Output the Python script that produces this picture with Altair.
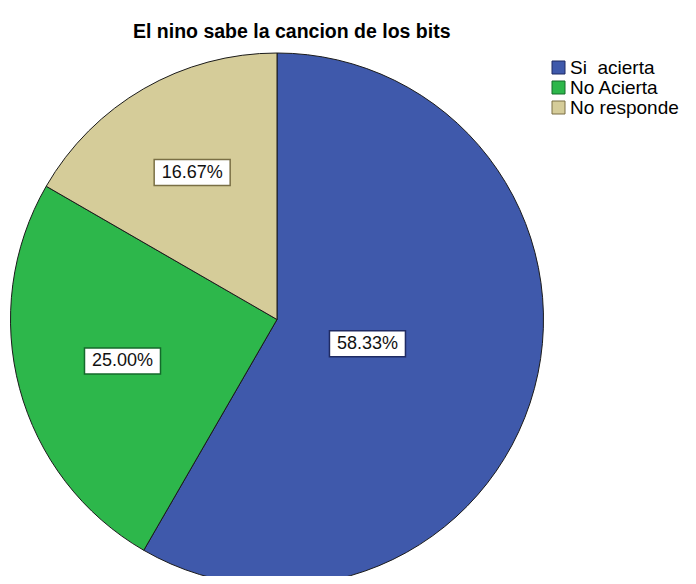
import altair as alt
import pandas as pd

categories = ["Si\u00a0 acierta", "No Acierta", "No responde"]
counts = [7, 3, 2]
fill_colors = ["#3F59AB", "#2DB74B", "#D5CC99"]
box_colors = ["#1F2B63", "#146A2B", "#7A6F45"]

df = pd.DataFrame({"category": categories, "count": counts,
                   "order": list(range(len(categories)))})

CX, CY, R = 269, 311.5, 266.5
BW, BH = 76, 26

arc = alt.Chart(df).mark_arc(radius=R, stroke="#1b1b1b", strokeWidth=1).encode(
    theta=alt.Theta("count:Q", stack=True),
    order=alt.Order("order:Q"),
    color=alt.Color(
        "category:N",
        scale=alt.Scale(domain=categories, range=fill_colors),
        legend=alt.Legend(
            title=None, orient="none", legendX=541, legendY=50,
            symbolType="square", symbolSize=169, symbolStrokeColor="#222",
            symbolStrokeWidth=1, symbolOpacity=1,
            labelFont="Liberation Sans", labelFontSize=19, labelColor="black",
            labelOffset=2, rowPadding=-2, padding=0,
        ),
    ),
    x=alt.value(CX),
    y=alt.value(CY),
)

base = (
    alt.Chart(df)
    .transform_joinaggregate(total="sum(count)")
    .transform_calculate(frac="datum.count / datum.total")
    .transform_window(cum="sum(frac)", sort=[alt.SortField("order")])
    .transform_calculate(half="datum.frac * PI",
                         mid="(datum.cum - datum.frac / 2) * 2 * PI")
    .transform_calculate(rl=f"2 * {R} * sin(datum.half) / (3 * datum.half)")
    .transform_calculate(lx=f"{CX} + datum.rl * sin(datum.mid)",
                         ly=f"{CY} - datum.rl * cos(datum.mid)")
    .transform_calculate(bx1=f"datum.lx - {BW / 2}", bx2=f"datum.lx + {BW / 2}",
                         by1=f"datum.ly - {BH / 2}", by2=f"datum.ly + {BH / 2}")
)

boxes = base.mark_rect(fill="white", strokeWidth=1.5).encode(
    x=alt.X("bx1:Q", scale=None, axis=None),
    x2="bx2:Q",
    y=alt.Y("by1:Q", scale=None, axis=None),
    y2="by2:Q",
    stroke=alt.Stroke("category:N",
                      scale=alt.Scale(domain=categories, range=box_colors),
                      legend=None),
)

texts = base.mark_text(fontSize=18, font="Liberation Sans", color="#111").encode(
    x=alt.X("lx:Q", scale=None, axis=None),
    y=alt.Y("ly:Q", scale=None, axis=None),
    text=alt.Text("frac:Q", format=".2%"),
)

chart = (
    alt.layer(arc, boxes, texts)
    .properties(
        width=680, height=568,
        autosize=alt.AutoSizeParams(type="none"),
        padding=0,
        title=alt.TitleParams(
            "El nino sabe la cancion de los bits",
            font="Liberation Sans", fontSize=19.5, fontWeight="bold",
            color="black", anchor="start", dx=125, dy=18, offset=-31,
            baseline="alphabetic",
        ),
    )
    .configure_view(stroke=None)
)

chart.save("out.html", embed_options={"renderer": "svg", "actions": False})
